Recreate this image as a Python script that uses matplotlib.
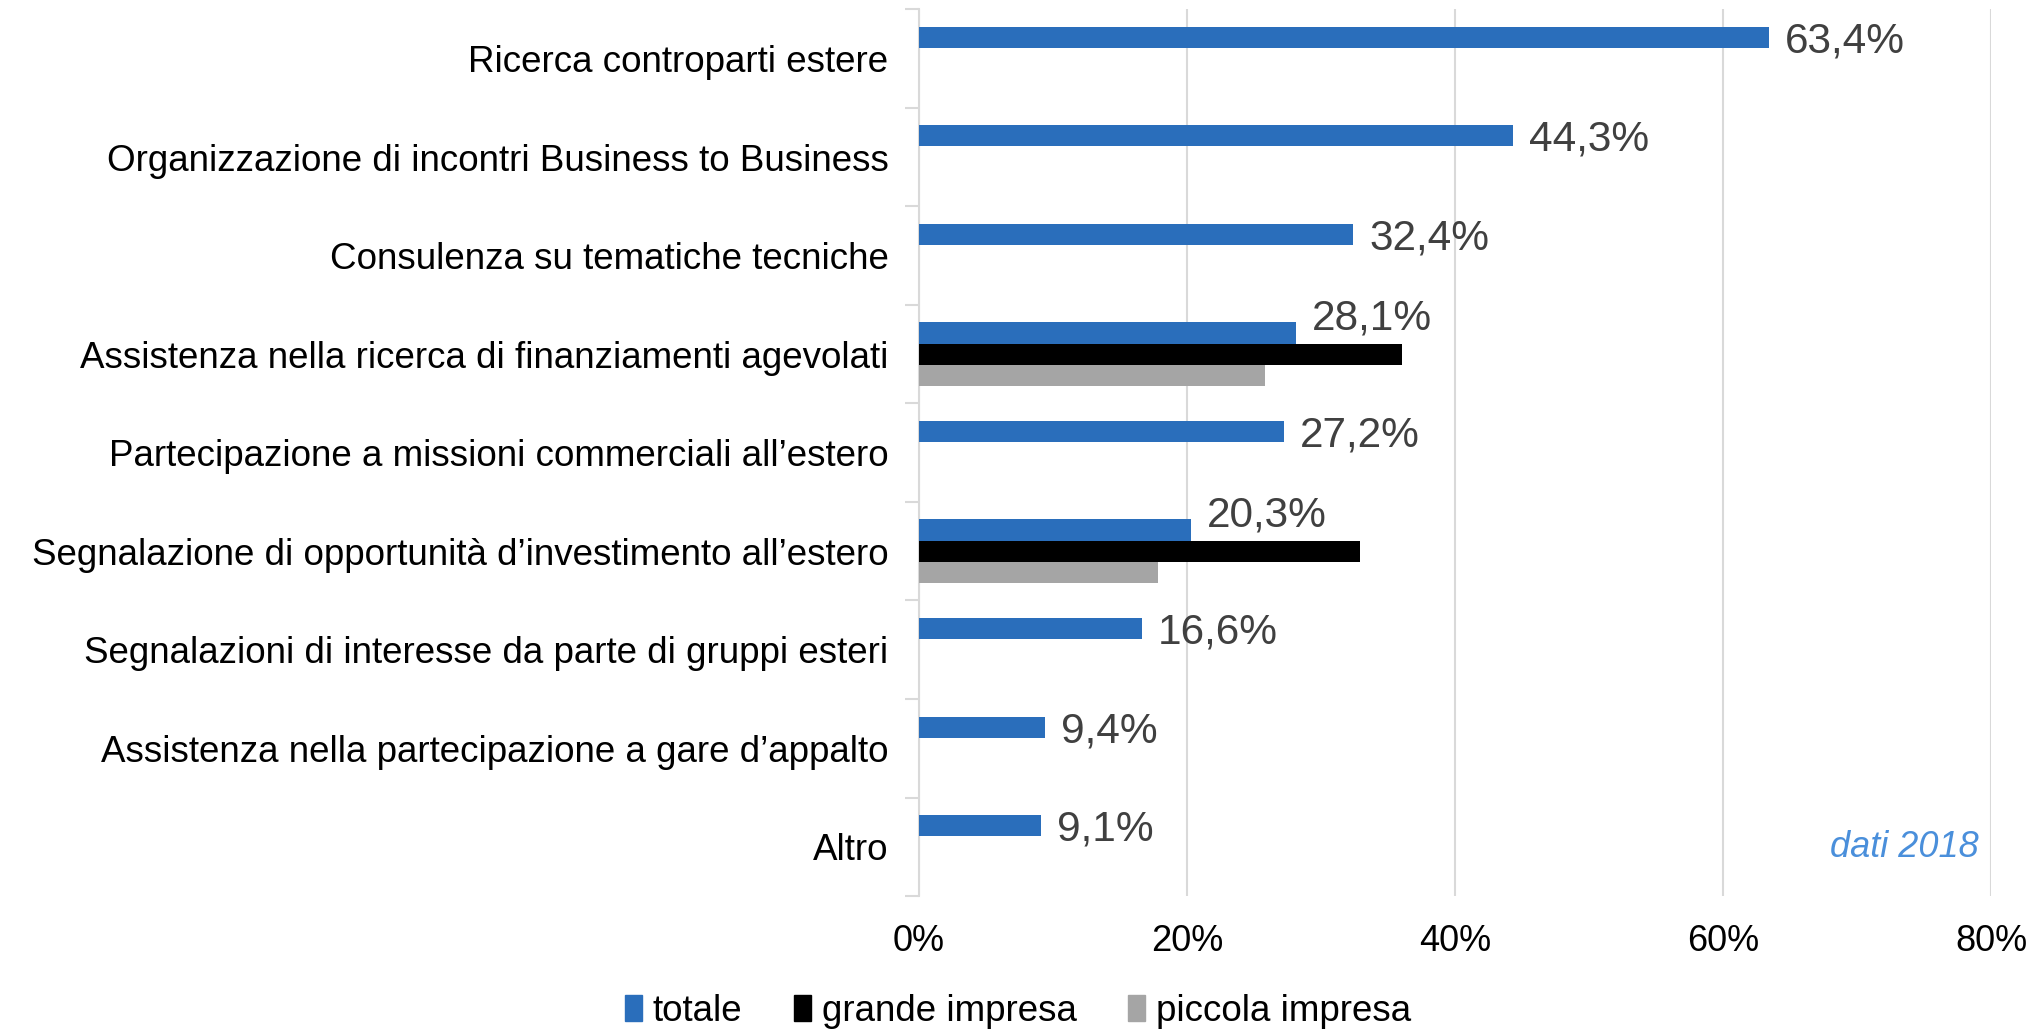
import numpy as np
import matplotlib.pyplot as plt
from matplotlib.patches import Patch

plt.rcParams['font.family'] = ['Liberation Sans', 'DejaVu Sans']

# categories top to bottom
categories = [
    'Ricerca controparti estere',
    'Organizzazione di incontri Business to Business',
    'Consulenza su tematiche tecniche',
    'Assistenza nella ricerca di finanziamenti agevolati',
    'Partecipazione a missioni commerciali all\u2019estero',
    'Segnalazione di opportunità d\u2019investimento all\u2019estero',
    'Segnalazioni di interesse da parte di gruppi esteri',
    'Assistenza nella partecipazione a gare d\u2019appalto',
    'Altro',
]
totale = [63.4, 44.3, 32.4, 28.1, 27.2, 20.3, 16.6, 9.4, 9.1]
grande = [np.nan, np.nan, np.nan, 36.0, np.nan, 32.9, np.nan, np.nan, np.nan]
piccola = [np.nan, np.nan, np.nan, 25.8, np.nan, 17.8, np.nan, np.nan, np.nan]
xticks = [0, 20, 40, 60, 80]

blue = '#2A6EBB'
black = '#000000'
gray = '#A5A5A5'

fig = plt.figure(figsize=(20.36, 10.30), dpi=100)
ax = fig.add_axes([0.4514, 0.130, 0.5266, 0.861])

y = np.arange(len(categories))
h = 0.215
ax.barh(y - h, totale, height=h, color=blue, zorder=3)
ax.barh(y, grande, height=h, color=black, zorder=3)
ax.barh(y + h, piccola, height=h, color=gray, zorder=3)

# data labels (only totale); raise a bit where other series are present
for i, v in enumerate(totale):
    shift = -0.15 if not np.isnan(grande[i]) else 0.04
    ax.text(v + 1.2, y[i] - h + shift, f'{v:.1f}%'.replace('.', ','),
            va='center', ha='left', fontsize=30.5, color='#404040', zorder=4)

ax.set_xlim(0, 80)
ax.set_ylim(len(categories) - 0.5, -0.5)
ax.set_xticks(xticks)
ax.set_xticklabels([f'{t}%' for t in xticks], fontsize=26)
ax.set_yticks(y)
ax.set_yticklabels(categories, fontsize=26.5)
ax.set_yticks(np.arange(len(categories) + 1) - 0.5, minor=True)
ax.tick_params(axis='y', which='major', length=0, pad=22)
ax.tick_params(axis='y', which='minor', length=10, color='#D9D9D9', width=1.5)
ax.tick_params(axis='x', length=0, pad=20)

ax.grid(axis='x', color='#D9D9D9', linewidth=1.5, zorder=0)
for s in ['top', 'bottom', 'right']:
    ax.spines[s].set_visible(False)
ax.spines['left'].set_color('#D9D9D9')
ax.spines['left'].set_linewidth(1.5)

ax.text(0.988, 0.055, 'dati 2018', transform=ax.transAxes, ha='right', va='center',
        fontsize=26, style='italic', color='#4A8FDB', zorder=5,
        bbox=dict(facecolor='white', edgecolor='none', pad=4))

handles = [Patch(color=blue, label='totale'),
           Patch(color=black, label='grande impresa'),
           Patch(color=gray, label='piccola impresa')]
fig.legend(handles=handles, loc='center', bbox_to_anchor=(0.5, 0.018), ncol=3,
           frameon=False, fontsize=26.5, handlelength=0.45, handleheight=0.7,
           handletextpad=0.3, columnspacing=1.4)

fig.savefig('out.png', dpi=100)
